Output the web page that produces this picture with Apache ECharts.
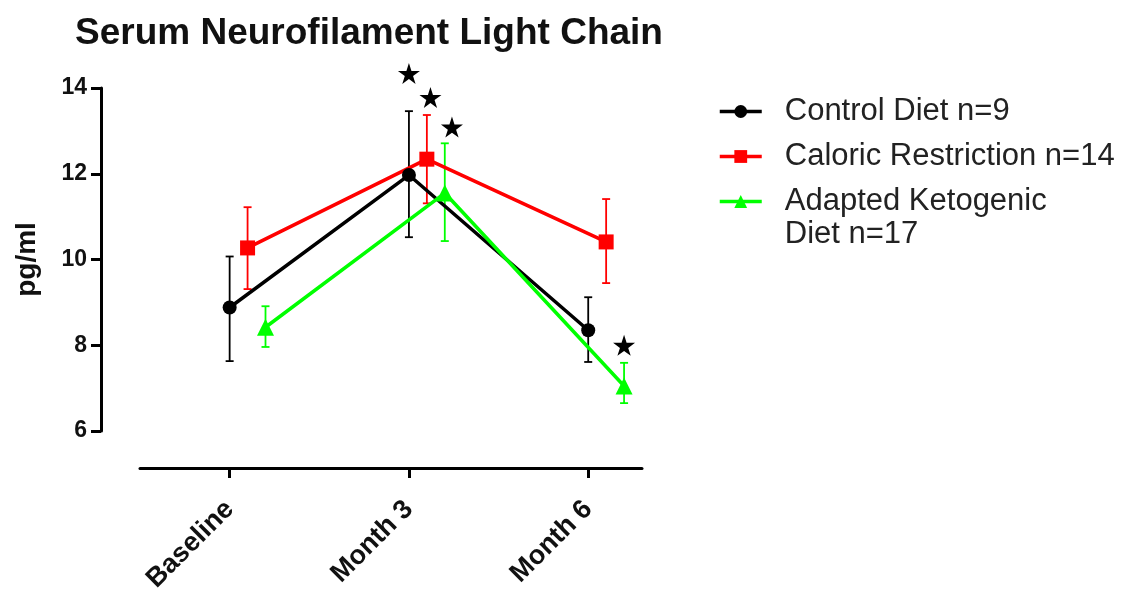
<!DOCTYPE html>
<html><head><meta charset="utf-8">
<script src="https://cdn.jsdelivr.net/npm/echarts@6/dist/echarts.min.js"></script>
<style>html,body{margin:0;padding:0;background:#fff}#c{width:1126px;height:589px}</style>
</head><body><div id="c"></div>
<script>
const categories = ['Baseline', 'Month 3', 'Month 6'];
const yTicks = [6, 8, 10, 12, 14];
const seriesNames = ['Control Diet n=9', 'Caloric Restriction n=14', 'Adapted Ketogenic\nDiet n=17'];
const controlMean = [8.88, 11.97, 8.35];
const controlLow = [7.63, 10.52, 7.61];
const controlHigh = [10.07, 13.46, 9.12];
const caloricMean = [10.27, 12.34, 10.41];
const caloricLow = [9.31, 11.31, 9.45];
const caloricHigh = [11.22, 13.37, 11.41];
const ketoMean = [8.42, 11.55, 7.05];
const ketoLow = [7.96, 10.43, 6.65];
const ketoHigh = [8.91, 12.71, 7.59];
const starX = [1.0, 1.12, 1.24, 2.2];
const starY = [14.34, 13.78, 13.09, 8.0];

const FONT = "'Liberation Sans', Arial, sans-serif";
const colors = ['#000000', '#ff0000', '#00ff00'];
const offsets = [0, 0.1, 0.2];
const means = [controlMean, caloricMean, ketoMean];
const lows = [controlLow, caloricLow, ketoLow];
const highs = [controlHigh, caloricHigh, ketoHigh];
const symbols = ['circle', 'rect', 'triangle'];
const symbolSizes = [14, 15, 17];

const chart = echarts.init(document.getElementById('c'));
const series = [];
means.forEach((m, s) => {
  series.push({
    type: 'custom',
    name: seriesNames[s] + ' err',
    z: 1,
    data: m.map((v, i) => [i + offsets[s], lows[s][i], highs[s][i]]),
    renderItem: function (params, api) {
      const x = api.value(0);
      const top = api.coord([x, api.value(2)]);
      const bot = api.coord([x, api.value(1)]);
      const hw = 4;
      const st = { stroke: colors[s], lineWidth: 1.8 };
      return {
        type: 'group',
        children: [
          { type: 'line', shape: { x1: top[0], y1: top[1], x2: bot[0], y2: bot[1] }, style: st },
          { type: 'line', shape: { x1: top[0] - hw, y1: top[1], x2: top[0] + hw, y2: top[1] }, style: st },
          { type: 'line', shape: { x1: bot[0] - hw, y1: bot[1], x2: bot[0] + hw, y2: bot[1] }, style: st }
        ]
      };
    }
  });
});
means.forEach((m, s) => {
  series.push({
    type: 'line',
    name: seriesNames[s],
    z: 3,
    data: m.map((v, i) => [i + offsets[s], v]),
    symbol: symbols[s],
    symbolSize: symbolSizes[s],
    showAllSymbol: true,
    color: colors[s],
    lineStyle: { color: colors[s], width: 3.5 },
    itemStyle: { color: colors[s] },
    animation: false
  });
});
series.push({
  type: 'scatter',
  name: 'sig',
  z: 4,
  clip: false,
  symbol: 'path://M50,0 L61,35 L98,35 L68,57 L79,91 L50,70 L21,91 L32,57 L2,35 L39,35 Z',
  symbolSize: [22, 21],
  itemStyle: { color: '#000', opacity: 1 },
  data: starX.map((x, i) => [x, starY[i]])
});

function legendFor(i, top, leadBlank) {
  return {
    show: true,
    left: 718,
    top: top,
    padding: 0,
    orient: 'vertical',
    itemWidth: 42,
    itemHeight: 16,
    lineStyle: { width: 3.5 },
    data: [{ name: seriesNames[i] }],
    formatter: name => {
      const lines = (leadBlank ? [' '] : []).concat(name.split('\n'));
      return lines.map(l => '{s|}' + l).join('\n');
    },
    textStyle: {
      fontFamily: FONT, fontSize: 31, color: '#222', lineHeight: 33,
      rich: { s: { width: 18, lineHeight: 33 } }
    },
    itemGap: 0
  };
}

chart.setOption({
  animation: false,
  backgroundColor: '#fff',
  title: {
    text: 'Serum Neurofilament Light Chain',
    left: 70, top: 10,
    textStyle: { fontFamily: FONT, fontSize: 37, fontWeight: 'bold', color: '#111' }
  },
  legend: [legendFor(0, 95, false), legendFor(1, 140, false), legendFor(2, 152, true)],
  grid: { left: 140, right: 484, top: 88, bottom: 158, containLabel: false, outerBoundsMode: 'none' },
  xAxis: {
    type: 'value',
    min: -0.5, max: 2.3,
    offset: 37,
    splitLine: { show: false },
    axisLine: { show: true, onZero: false, lineStyle: { color: '#000', width: 3 } },
    axisTick: { show: true, customValues: [0, 1, 2], length: 10, lineStyle: { color: '#000', width: 3 } },
    axisLabel: {
      customValues: [0, 1, 2],
      formatter: v => categories[Math.round(v)],
      rotate: 45, margin: 37,
      fontFamily: FONT, fontSize: 27, fontWeight: 'bold', color: '#111'
    }
  },
  yAxis: {
    type: 'value',
    min: 6, max: 14, interval: 2,
    offset: 39,
    name: 'pg/ml',
    nameLocation: 'middle',
    nameGap: 60,
    nameTextStyle: { fontFamily: FONT, fontSize: 28, fontWeight: 'bold', color: '#111' },
    splitLine: { show: false },
    axisLine: { show: true, onZero: false, lineStyle: { color: '#000', width: 3 } },
    axisTick: { show: true, length: 10, lineStyle: { color: '#000', width: 3 } },
    axisLabel: {
      formatter: v => (yTicks.indexOf(v) >= 0 ? String(v) : ''),
      margin: 14,
      fontFamily: FONT, fontSize: 23, fontWeight: 'bold', color: '#111'
    }
  },
  series: series
});
</script>
</body></html>
